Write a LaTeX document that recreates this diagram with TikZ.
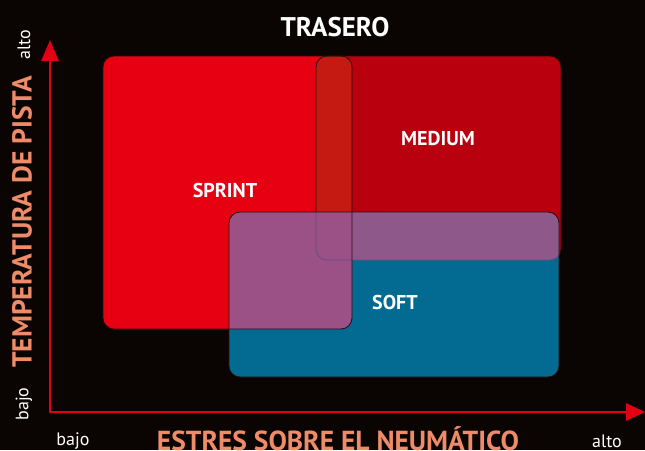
\documentclass[tikz,border=0pt]{standalone}
\usepackage{fontspec}
\setmainfont{PT Sans}
\usepackage{tikz}
\usetikzlibrary{arrows.meta}

\definecolor{bgdark}{RGB}{10,5,3}
\definecolor{sprintred}{RGB}{230,0,18}
\definecolor{mediumred}{RGB}{185,0,14}
\definecolor{overlapred}{RGB}{196,26,18}
\definecolor{softblue}{RGB}{3,106,145}
\definecolor{softsprint}{RGB}{155,81,133}
\definecolor{softmedium}{RGB}{143,88,138}
\definecolor{axisred}{RGB}{228,0,20}
\definecolor{salmon}{RGB}{238,140,105}
\definecolor{edgedark}{RGB}{40,12,14}
\definecolor{edgesoft}{RGB}{100,80,125}

\newcommand{\sprintzone}{(103,56) rectangle (352,329)}
\newcommand{\mediumzone}{(316,56) rectangle (561,260)}
\newcommand{\softzone}{(229,212) rectangle (559,377)}

\tikzset{
  zone/.style={rounded corners=11pt},
  zoneedge/.style={zone, draw=edgedark, line width=0.8pt},
  zonelabel/.style={text=white, font=\bfseries\fontsize{20}{20}\selectfont},
  axislabel/.style={text=salmon, font=\bfseries\fontsize{27.5}{27.5}\selectfont},
  endlabel/.style={text=white, font=\fontsize{18}{18}\selectfont},
  axisline/.style={draw=axisred, line width=2.6pt,
    {Triangle[length=21pt,width=17pt]}-{Triangle[length=19pt,width=17pt]}},
}

\begin{document}
\begin{tikzpicture}[x=1pt,y=-1pt]
    \fill[bgdark] (0,0) rectangle (645,450);
    \useasboundingbox (0,0) rectangle (645,450);

    % zones
    \fill[sprintred, zone] \sprintzone;
    \fill[mediumred, zone] \mediumzone;
    \begin{scope}
        \clip[zone] \sprintzone;
        \fill[overlapred, zone] \mediumzone;
    \end{scope}
    \draw[zoneedge] \mediumzone;
    \fill[softblue, zone] \softzone;
    \begin{scope}
        \clip[zone] \softzone;
        \fill[softmedium, zone] \mediumzone;
        \fill[softsprint, zone] \sprintzone;
        \draw[zone, draw=edgesoft, line width=0.8pt] \mediumzone;
    \end{scope}
    \draw[zoneedge] \sprintzone;
    \draw[zoneedge] \softzone;

    \node[zonelabel] (sprint) at (225,190) {SPRINT};
    \node[zonelabel] (medium) at (438,139) {MEDIUM};
    \node[zonelabel] (soft) at (395,302) {SOFT};

    % axes
    \coordinate (origin) at (50,412);
    \coordinate (ytip) at (50,40);
    \coordinate (xtip) at (645,412);
    \draw[axisline] (ytip) -- (origin) -- (xtip);

    \node[text=white, font=\bfseries\fontsize{27}{27}\selectfont] (title) at (335,27) {TRASERO};
    \node[axislabel, anchor=base, inner sep=0pt] (xlabel) at (338,450) {ESTRES SOBRE EL NEUMÁTICO};
    \node[axislabel, rotate=90] (ylabel) at (22,222) {TEMPERATURA DE PISTA};
    \node[endlabel] (xlow) at (73,441) {bajo};
    \node[endlabel] (xhigh) at (607,441) {alto};
    \node[endlabel, rotate=90] (ylow) at (24,404) {bajo};
    \node[endlabel, rotate=90] (yhigh) at (24,45) {alto};
\end{tikzpicture}
\end{document}
